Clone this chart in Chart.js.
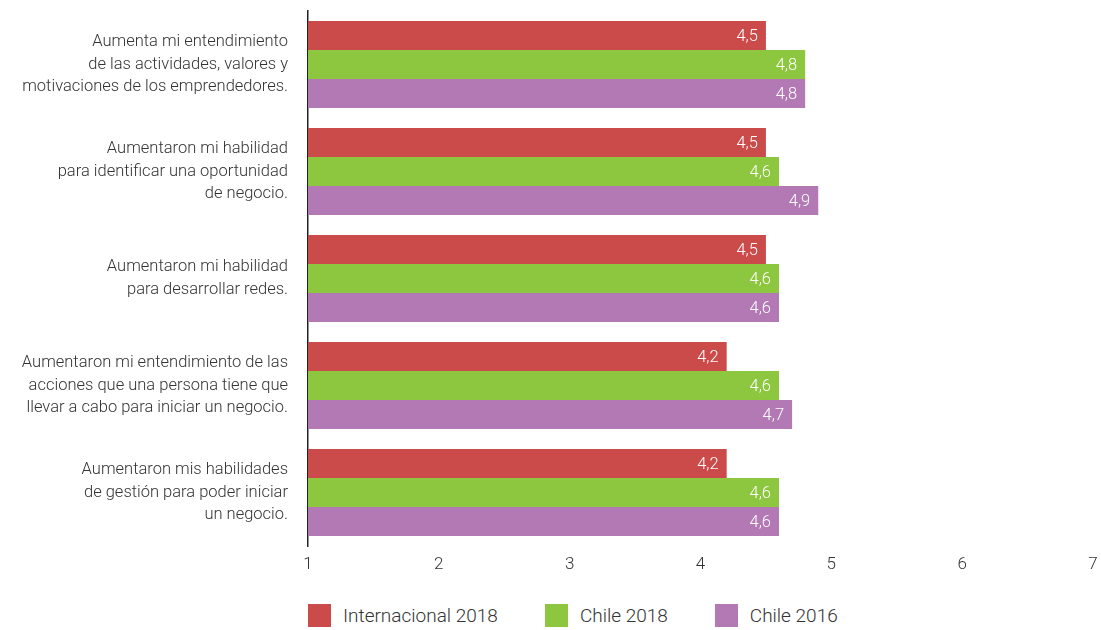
<!DOCTYPE html>
<html>
<head>
<meta charset="utf-8">
<script src="https://cdn.jsdelivr.net/npm/chart.js@4.4.1/dist/chart.umd.min.js"></script>
<style>
  html, body { margin: 0; padding: 0; background: #fff; }
  #wrap { position: relative; width: 1101px; height: 630px; }
  #chart-box { position: absolute; left: 0; top: 0; width: 1101px; height: 590px; }
  #legend {
    position: absolute; left: 308px; top: 604px;
    display: flex; align-items: center;
    font-family: Roboto, sans-serif; font-weight: 300; font-size: 19px; color: #333;
  }
  .legend-item { display: flex; align-items: center; margin-right: 47px; }
  .legend-swatch { width: 23px; height: 23px; margin-right: 12px; }
</style>
</head>
<body>
<div id="wrap">
  <div id="chart-box"><canvas id="chart"></canvas></div>
  <div id="legend"></div>
</div>
<script>
// =====================
// Data
// =====================
const categories = [
    ["Aumenta mi entendimiento", "de las actividades, valores y", "motivaciones de los emprendedores."],
    ["Aumentaron mi habilidad", "para identificar una oportunidad", "de negocio."],
    ["Aumentaron mi habilidad", "para desarrollar redes."],
    ["Aumentaron mi entendimiento de las", "acciones que una persona tiene que", "llevar a cabo para iniciar un negocio."],
    ["Aumentaron mis habilidades", "de gestión para poder iniciar", "un negocio."]
];
const seriesNames = ["Internacional 2018", "Chile 2018", "Chile 2016"];
const internacional2018 = [4.5, 4.5, 4.5, 4.2, 4.2];
const chile2018 = [4.8, 4.6, 4.6, 4.6, 4.6];
const chile2016 = [4.8, 4.9, 4.6, 4.7, 4.6];
const xTicks = [1, 2, 3, 4, 5, 6, 7];

const colors = ["#CB4A4A", "#8DC63F", "#B379B4"];
const fontFamily = "Roboto, sans-serif";

// =====================
// Value labels inside the bar ends
// =====================
const valueLabels = {
    id: "valueLabels",
    afterDatasetsDraw(chart) {
        const ctx = chart.ctx;
        ctx.save();
        ctx.font = "300 16.5px " + fontFamily;
        ctx.fillStyle = "#fff";
        ctx.textAlign = "right";
        ctx.textBaseline = "middle";
        chart.data.datasets.forEach((ds, i) => {
            chart.getDatasetMeta(i).data.forEach((bar, j) => {
                const txt = ds.data[j].toFixed(1).replace(".", ",");
                ctx.fillText(txt, bar.x - 8, bar.y + 1);
            });
        });
        ctx.restore();
    }
};

// =====================
// Chart
// =====================
function renderChart() {
    const ctx = document.getElementById("chart").getContext("2d");
    const seriesData = [internacional2018, chile2018, chile2016];

    new Chart(ctx, {
        type: "bar",
        data: {
            labels: categories,
            datasets: seriesData.map((d, i) => ({
                label: seriesNames[i],
                data: d,
                backgroundColor: colors[i],
                borderWidth: 0,
                barPercentage: 1,
                categoryPercentage: 0.815
            }))
        },
        options: {
            indexAxis: "y",
            responsive: true,
            maintainAspectRatio: false,
            animation: false,
            layout: { autoPadding: false, padding: { top: 11, right: 8, left: 0, bottom: 0 } },
            plugins: {
                legend: { display: false },
                tooltip: { enabled: false }
            },
            scales: {
                x: {
                    min: 1,
                    max: 7,
                    afterBuildTicks(scale) {
                        scale.ticks = xTicks.map(v => ({ value: v }));
                    },
                    grid: { display: false, drawTicks: false },
                    border: { display: false },
                    ticks: {
                        padding: 9,
                        color: "#333",
                        font: { family: fontFamily, size: 17, weight: 300 }
                    },
                    afterFit(scale) {
                        scale.height = 44;
                        scale.paddingLeft = 0;
                        scale.paddingRight = 0;
                    }
                },
                y: {
                    grid: { display: false, drawTicks: false },
                    border: { display: true, color: "#222", width: 1.5 },
                    ticks: {
                        padding: 20,
                        color: "#333",
                        font: { family: fontFamily, size: 16.5, weight: 300, lineHeight: 1.36 }
                    },
                    afterFit(scale) {
                        scale.width = 308;
                        scale.paddingTop = 0;
                        scale.paddingBottom = 0;
                    }
                }
            }
        },
        plugins: [valueLabels]
    });
}

function renderLegend() {
    const box = document.getElementById("legend");
    seriesNames.forEach((name, i) => {
        const item = document.createElement("div");
        item.className = "legend-item";
        const sw = document.createElement("div");
        sw.className = "legend-swatch";
        sw.style.background = colors[i];
        const label = document.createElement("span");
        label.innerText = name;
        item.appendChild(sw);
        item.appendChild(label);
        box.appendChild(item);
    });
}

renderChart();
renderLegend();
</script>
</body>
</html>
